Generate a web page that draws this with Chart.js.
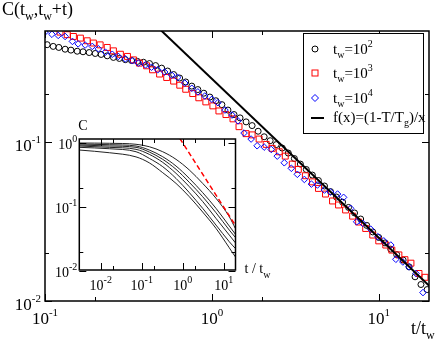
<!DOCTYPE html>
<html>
<head>
<meta charset="utf-8">
<script src="https://cdn.jsdelivr.net/npm/chart.js@4/dist/chart.umd.min.js"></script>
<style>
  body { margin: 0; background: #fff; }
  #wrap { position: relative; width: 436px; height: 343px; }
  #main { position: absolute; left: 0; top: 0; }
  #inset { position: absolute; left: 40px; top: 115px; }
</style>
</head>
<body>
<div id="wrap">
  <canvas id="main" width="436" height="343"></canvas>
  <canvas id="inset" width="240" height="185"></canvas>
</div>
<script>
// main panel, C(tw, tw+t) vs t/tw
const tw2X = [0.103,0.112,0.121,0.132,0.143,0.156,0.169,0.184,0.200,0.217,0.236,0.257,0.279,0.303,0.330,0.358,0.389,0.423,0.460,0.500,0.543,0.590,0.641,0.697,0.758,0.824,0.895,0.973,1.057,1.148,1.248,1.357,1.475,1.603,1.742,1.893,2.057,2.235,2.43,2.64,2.87,3.12,3.39,3.68,4.00,4.35,4.73,5.14,5.58,6.07,6.59,7.16,7.79,8.47,9.20,10.0,10.9,11.8,12.8,14.0,15.2,16.5,17.9,19.5];
const tw2Y = [0.410,0.400,0.394,0.384,0.379,0.373,0.370,0.366,0.361,0.356,0.349,0.341,0.336,0.330,0.326,0.322,0.318,0.312,0.303,0.292,0.280,0.266,0.253,0.239,0.225,0.214,0.203,0.192,0.182,0.172,0.159,0.149,0.142,0.134,0.127,0.117,0.108,0.102,0.0964,0.0917,0.0853,0.0788,0.0727,0.0672,0.0620,0.0573,0.0529,0.0488,0.0451,0.0419,0.0388,0.0358,0.0328,0.0299,0.0272,0.0251,0.0232,0.0212,0.0196,0.0181,0.0164,0.0142,0.0127,0.0118];

const tw3X = [0.123,0.136,0.148,0.163,0.179,0.195,0.214,0.236,0.257,0.283,0.312,0.339,0.368,0.406,0.441,0.486,0.536,0.590,0.642,0.697,0.768,0.835,0.920,1.014,1.102,1.214,1.338,1.454,1.602,1.742,1.919,2.115,2.298,2.533,2.753,3.033,3.297,3.633,4.004,4.352,4.795,5.284,5.741,6.327,6.973,7.577,8.350,9.203,10.0,11.02,11.98,13.20,14.35,15.59,17.42,18.93];
const tw3Y = [0.492,0.474,0.462,0.451,0.434,0.420,0.409,0.394,0.375,0.357,0.346,0.329,0.314,0.302,0.285,0.268,0.255,0.242,0.228,0.215,0.202,0.190,0.179,0.169,0.157,0.149,0.140,0.125,0.113,0.111,0.1045,0.0967,0.0913,0.0869,0.0816,0.0727,0.0673,0.0614,0.0562,0.0511,0.0471,0.0426,0.0402,0.0374,0.0342,0.0314,0.0286,0.0260,0.0239,0.0225,0.0209,0.0195,0.0182,0.0173,0.0149,0.0141];

const tw4X = [0.100,0.110,0.120,0.132,0.146,0.158,0.174,0.192,0.209,0.230,0.253,0.275,0.303,0.334,0.363,0.400,0.435,0.473,0.521,0.574,0.624,0.688,0.758,0.824,0.907,1.000,1.087,1.198,1.320,1.434,1.559,1.718,1.867,2.057,2.267,2.464,2.715,2.992,3.251,3.583,3.949,4.291,4.728,5.138,5.662,6.155,6.783,7.372,8.011,8.950,9.863,10.72,11.81,12.66,13.95,15.16,16.71,18.41];
const tw4Y = [0.492,0.477,0.469,0.462,0.430,0.415,0.408,0.400,0.386,0.368,0.357,0.346,0.334,0.325,0.314,0.306,0.296,0.285,0.276,0.264,0.255,0.235,0.218,0.207,0.195,0.186,0.177,0.159,0.148,0.136,0.114,0.1045,0.0948,0.0930,0.0899,0.0816,0.0741,0.0684,0.0627,0.0582,0.0544,0.0537,0.0499,0.0485,0.0471,0.0449,0.0383,0.0315,0.0308,0.0283,0.0254,0.0239,0.0225,0.0183,0.0176,0.0164,0.0149,0.0113];

// f(x) = (1-T/Tg)/x
const fitX = [0.45, 20.5];
const fitY = [0.556, 0.0122];

const xMajor = [0.1, 1, 10];
const xMinor = [0.2, 2];
const yMajor = [0.01, 0.1];
const yMinor = [0.02, 0.2];
const legendExps = ["2", "3", "4"];

// inset, C vs t/tw
const insetT = [0.003, 0.0162, 0.0726, 0.153, 0.325, 0.687, 1.45, 3.07, 6.49, 13.7, 19.2];
const insetC1 = [1.0, 0.990, 0.955, 0.875, 0.731, 0.556, 0.379, 0.234, 0.137, 0.0706, 0.0464];
const insetC2 = [0.965, 0.941, 0.898, 0.777, 0.611, 0.437, 0.280, 0.168, 0.0954, 0.0505, 0.0378];
const insetC3 = [0.930, 0.898, 0.856, 0.723, 0.556, 0.388, 0.243, 0.145, 0.0815, 0.0437, 0.0336];
const insetC4 = [0.898, 0.856, 0.797, 0.665, 0.499, 0.336, 0.208, 0.122, 0.0665, 0.0365, 0.0277];
const insetC5 = [0.856, 0.814, 0.731, 0.576, 0.427, 0.280, 0.168, 0.0954, 0.0523, 0.0287, 0.0226];
const insetC6 = [0.777, 0.705, 0.607, 0.490, 0.344, 0.234, 0.145, 0.0836, 0.0464, 0.0231, 0.0167];
const redX = [0.85, 19.2];
const redY = [1.18, 0.052];

const insetXMajor = [0.01, 0.1, 1, 10];
const insetXMinor = [0.02, 0.2, 2];
const insetYMajor = [0.01, 0.1, 1];
const insetYMinor = [0.02, 0.2];

const SERIF = "'Liberation Serif', 'Times New Roman', serif";

const toPts = (xs, ys) => xs.map((x, i) => ({x: x, y: ys[i]}));
const expOf = (v) => String(Math.round(Math.log10(v)));

// text with sub / superscripts: parts = [text, size, dy]
function rich(ctx, parts, x, y, align) {
  let w = 0;
  parts.forEach((p) => {
    ctx.font = p[1] + "px " + SERIF;
    w += ctx.measureText(p[0]).width;
  });
  let cx = align === "center" ? x - w / 2 : align === "right" ? x - w : x;
  ctx.textAlign = "left";
  ctx.textBaseline = "alphabetic";
  ctx.fillStyle = "#000";
  parts.forEach((p) => {
    ctx.font = p[1] + "px " + SERIF;
    ctx.fillText(p[0], cx, y + (p[2] || 0));
    cx += ctx.measureText(p[0]).width;
  });
}

function frameAndTicks(chart, xs, ys, len) {
  const {ctx, chartArea: a, scales} = chart;
  ctx.beginPath();
  xs.forEach((v) => {
    const px = Math.round(scales.x.getPixelForValue(v)) + 0.5;
    ctx.moveTo(px, a.bottom);
    ctx.lineTo(px, a.bottom - len);
    ctx.moveTo(px, a.top);
    ctx.lineTo(px, a.top + len);
  });
  ys.forEach((v) => {
    const py = Math.round(scales.y.getPixelForValue(v)) + 0.5;
    ctx.moveTo(a.left, py);
    ctx.lineTo(a.left + len, py);
    ctx.moveTo(a.right, py);
    ctx.lineTo(a.right - len, py);
  });
  ctx.stroke();
}

const mainDeco = {
  id: "mainDeco",
  afterDraw(chart) {
    const {ctx, chartArea: a, scales} = chart;
    ctx.save();
    ctx.strokeStyle = "#000";
    ctx.lineWidth = 1.5;
    ctx.strokeRect(a.left, a.top, a.right - a.left, a.bottom - a.top);
    ctx.lineWidth = 1;
    frameAndTicks(chart, xMajor, yMajor, 7);
    frameAndTicks(chart, xMinor, yMinor, 4);

    xMajor.forEach((v) => {
      rich(ctx, [["10", 17], [expOf(v), 11, -8]], scales.x.getPixelForValue(v), 324, "center");
    });
    yMajor.forEach((v) => {
      rich(ctx, [["10", 17], [expOf(v), 11, -8]], 41, scales.y.getPixelForValue(v) + 9, "right");
    });

    // axis titles
    rich(ctx, [["C(t", 18], ["w", 12, 5], [",t", 18], ["w", 12, 5], ["+t)", 18]], 2, 15, "left");
    rich(ctx, [["t/t", 18], ["w", 12, 5]], 411, 334, "left");

    // legend
    ctx.fillStyle = "#fff";
    ctx.fillRect(303.5, 33.5, 120, 100);
    ctx.strokeStyle = "#000";
    ctx.lineWidth = 1;
    ctx.strokeRect(303.5, 33.5, 120, 100);

    const rows = [49, 73, 98];
    ctx.lineWidth = 1;
    ctx.strokeStyle = "#000";
    ctx.beginPath();
    ctx.arc(315, rows[0], 3, 0, Math.PI * 2);
    ctx.stroke();
    ctx.strokeStyle = "#ff0000";
    ctx.strokeRect(312, rows[1] - 3, 6, 6);
    ctx.strokeStyle = "#0000ff";
    ctx.beginPath();
    ctx.moveTo(315, rows[2] - 3.5);
    ctx.lineTo(318.5, rows[2]);
    ctx.lineTo(315, rows[2] + 3.5);
    ctx.lineTo(311.5, rows[2]);
    ctx.closePath();
    ctx.stroke();
    ctx.strokeStyle = "#000";
    ctx.lineWidth = 2;
    ctx.beginPath();
    ctx.moveTo(311, 118);
    ctx.lineTo(324, 118);
    ctx.stroke();

    legendExps.forEach((e, i) => {
      rich(ctx, [["t", 15], ["w", 10, 4], ["=10", 15], [e, 10, -7]], 333, rows[i] + 5, "left");
    });
    rich(ctx, [["f(x)=(1-T/T", 15], ["g", 10, 4], [")/x", 15]], 333, 122, "left");
    ctx.restore();
  },
};

new Chart(document.getElementById("main"), {
  type: "scatter",
  data: {
    datasets: [
      {
        data: toPts(fitX, fitY),
        showLine: true,
        borderColor: "#000",
        borderWidth: 2,
        pointRadius: 0,
      },
      {
        data: toPts(tw4X, tw4Y),
        pointStyle: "rectRot",
        pointRadius: 3.3,
        borderColor: "#0000ff",
        backgroundColor: "rgba(0,0,0,0)",
        borderWidth: 1,
      },
      {
        data: toPts(tw3X, tw3Y),
        pointStyle: "rect",
        pointRadius: 4.2,
        borderColor: "#ff0000",
        backgroundColor: "rgba(0,0,0,0)",
        borderWidth: 1,
      },
      {
        data: toPts(tw2X, tw2Y),
        pointStyle: "circle",
        pointRadius: 3,
        borderColor: "#000",
        backgroundColor: "rgba(0,0,0,0)",
        borderWidth: 1,
      },
    ],
  },
  options: {
    responsive: false,
    animation: false,
    events: [],
    layout: {padding: {left: 45, right: 7, top: 31, bottom: 42}},
    scales: {
      x: {type: "logarithmic", min: 0.1, max: 20, display: false},
      y: {type: "logarithmic", min: 0.01, max: 0.5, display: false},
    },
    plugins: {legend: {display: false}, tooltip: {enabled: false}},
  },
  plugins: [mainDeco],
});

const insetDeco = {
  id: "insetDeco",
  beforeDraw(chart) {
    const {ctx, chartArea: a} = chart;
    ctx.save();
    ctx.fillStyle = "#fff";
    ctx.fillRect(a.left, a.top, a.right - a.left, a.bottom - a.top);
    ctx.restore();
  },
  afterDraw(chart) {
    const {ctx, chartArea: a, scales} = chart;
    ctx.save();
    ctx.strokeStyle = "#000";
    ctx.lineWidth = 1.5;
    ctx.strokeRect(a.left, a.top, a.right - a.left, a.bottom - a.top);
    ctx.lineWidth = 1;
    frameAndTicks(chart, insetXMajor, insetYMajor, 7);
    frameAndTicks(chart, insetXMinor, insetYMinor, 4);

    insetXMajor.forEach((v) => {
      rich(ctx, [["10", 14], [expOf(v), 10, -7]], scales.x.getPixelForValue(v), a.bottom + 20, "center");
    });
    insetYMajor.forEach((v) => {
      rich(ctx, [["10", 14], [expOf(v), 10, -7]], a.left - 2, scales.y.getPixelForValue(v) + 6, "right");
    });
    rich(ctx, [["C", 14]], a.left - 1, a.top - 9, "left");
    rich(ctx, [["t / t", 14], ["w", 10, 5]], a.right + 9, a.bottom + 3, "left");
    ctx.restore();
  },
};

const insetLine = (ys) => ({
  data: toPts(insetT, ys),
  showLine: true,
  borderColor: "#222",
  borderWidth: 1,
  pointRadius: 0,
  cubicInterpolationMode: "monotone",
});

new Chart(document.getElementById("inset"), {
  type: "scatter",
  data: {
    datasets: [
      {
        data: toPts(redX, redY),
        showLine: true,
        borderColor: "#ff0000",
        borderWidth: 1.5,
        borderDash: [5, 3],
        pointRadius: 0,
      },
      insetLine(insetC1),
      insetLine(insetC2),
      insetLine(insetC3),
      insetLine(insetC4),
      insetLine(insetC5),
      insetLine(insetC6),
    ],
  },
  options: {
    responsive: false,
    animation: false,
    events: [],
    layout: {padding: {left: 39.3, right: 44.5, top: 24, bottom: 30}},
    scales: {
      x: {type: "logarithmic", min: 0.003, max: 19.4, display: false},
      y: {type: "logarithmic", min: 0.0104, max: 1.155, display: false},
    },
    plugins: {legend: {display: false}, tooltip: {enabled: false}},
  },
  plugins: [insetDeco],
});
</script>
</body>
</html>
